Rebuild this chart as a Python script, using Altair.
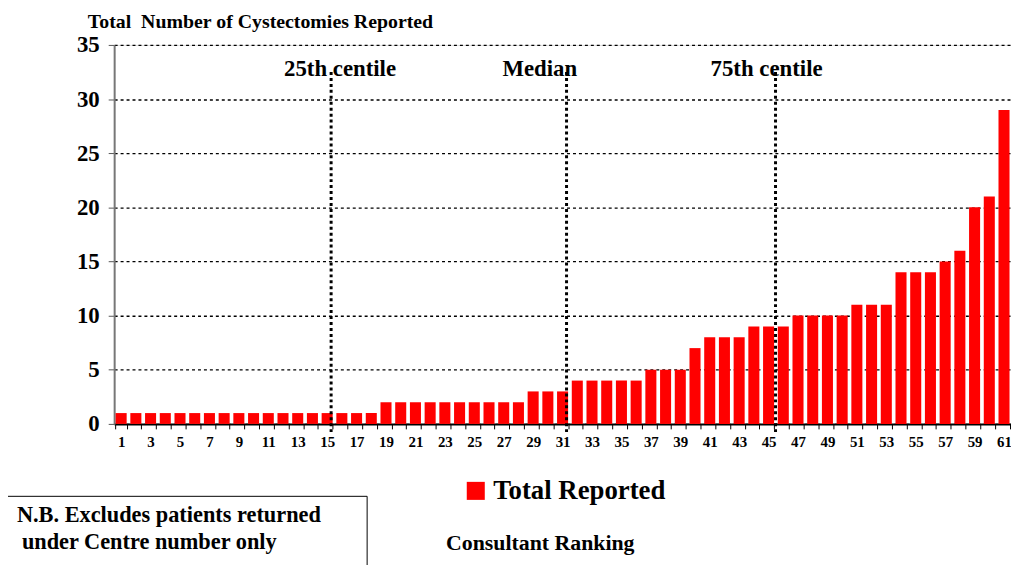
import altair as alt
import pandas as pd

ranks = list(range(1, 62))
totals = [1, 1, 1, 1, 1, 1, 1, 1, 1, 1, 1, 1, 1, 1, 1, 1, 1, 1,
          2, 2, 2, 2, 2, 2, 2, 2, 2, 2,
          3, 3, 3,
          4, 4, 4, 4, 4,
          5, 5, 5,
          7,
          8, 8, 8,
          9, 9, 9,
          10, 10, 10, 10,
          11, 11, 11,
          14, 14, 14,
          15, 16, 20, 21, 29]
series_name = "Total Reported"

centile_ranks = [15, 31, 45]
centile_labels = ["25th centile", "Median", "75th centile"]
centile_top = 32.5
centile_bottom = -0.9
label_level = 32.8

note_lines = ["N.B. Excludes patients returned", "under Centre number only"]

FONT = "Liberation Serif"

df = pd.DataFrame({"rank": ranks, "total": totals, "series": series_name})
cdf = pd.DataFrame({"rank": centile_ranks, "label": centile_labels,
                    "top": centile_top, "bottom": centile_bottom, "lv": label_level})

xscale = alt.Scale(domain=ranks, paddingInner=0.25, paddingOuter=0.1)
yscale = alt.Scale(domain=[0, 35], nice=False)

bars = alt.Chart(df).mark_bar(color="#FF0000").encode(
    x=alt.X("rank:O", scale=xscale, sort=None,
            axis=alt.Axis(title="Consultant Ranking", labelAngle=0,
                          labelExpr="datum.value % 2 == 1 ? datum.label : ''",
                          labelOverlap=False, labelFont=FONT, labelFontSize=15,
                          labelFontWeight="bold", labelColor="black",
                          tickBand="extent", tickSize=5, tickColor="black",
                          labelPadding=6, domainColor="black", domainWidth=2,
                          titleFont=FONT, titleFontSize=22, titleFontWeight="bold",
                          titleColor="black", titleX=429, titleY=120,
                          titleBaseline="middle", titleAnchor="start",
                          titleAlign="center")),
    y=alt.Y("total:Q", scale=yscale,
            axis=alt.Axis(title="Total\u00a0\u00a0Number of Cystectomies Reported",
                          values=[0, 5, 10, 15, 20, 25, 30, 35],
                          labelFont=FONT, labelFontSize=23, labelFontWeight="bold",
                          labelColor="black", tickSize=6, tickColor="#555555",
                          labelPadding=9, domainColor="#777777", domainWidth=2,
                          grid=True, gridDash=[3, 3], gridColor="black", gridWidth=1.3,
                          titleFont=FONT, titleFontSize=20, titleFontWeight="bold",
                          titleColor="black", titleAngle=0, titleAlign="left",
                          titleBaseline="middle", titleX=-27, titleY=-24)),
    color=alt.Color("series:N",
                    scale=alt.Scale(domain=[series_name], range=["#FF0000"]),
                    legend=alt.Legend(title=None, orient="none", legendX=351,
                                      legendY=436, symbolType="square",
                                      symbolSize=330, symbolStrokeWidth=0,
                                      labelFont=FONT, labelFontSize=27,
                                      labelFontWeight="bold", labelColor="black",
                                      labelLimit=400)),
)

rule_shift = [4, 4, 7]
label_dx = [13, -23, -2]
layers = [bars]
for lab, sh, dxv in zip(centile_labels, rule_shift, label_dx):
    sub = alt.Chart(cdf).transform_filter(alt.datum.label == lab)
    layers.append(
        sub.mark_rule(color="black", strokeWidth=3, strokeDash=[3, 3],
                      xOffset=sh).encode(
            x=alt.X("rank:O", scale=xscale, sort=None),
            y=alt.Y("top:Q", scale=yscale),
            y2="bottom:Q")
    )
    layers.append(
        sub.mark_text(font=FONT, fontSize=23, fontWeight="bold", color="black",
                      dx=dxv, baseline="middle", align="center").encode(
            x=alt.X("rank:O", scale=xscale, sort=None),
            y=alt.Y("lv:Q", scale=yscale),
            text="label:N")
    )

note_box = alt.Chart(pd.DataFrame({"a": [0]})).mark_rect(
    fill="white", stroke="black", strokeWidth=1).encode(
    x=alt.value(-110), x2=alt.value(255), y=alt.value(455), y2=alt.value(540))
layers.append(note_box)
note_x = [-98, -93]
for i, line in enumerate(note_lines):
    layers.append(
        alt.Chart(pd.DataFrame({"t": [line]})).mark_text(
            font=FONT, fontSize=22.5, fontWeight="bold", color="black", align="left",
            baseline="middle").encode(
            x=alt.value(note_x[i]), y=alt.value(474 + 27 * i), text="t:N")
    )

chart = alt.layer(*layers).properties(
    width=904, height=382,
    autosize=alt.AutoSizeParams(type="none"),
    padding={"left": 107, "top": 35, "right": 0, "bottom": 140},
).configure_view(stroke=None).configure(background="white")

chart.save("out.html", embed_options={"renderer": "svg", "actions": False})
